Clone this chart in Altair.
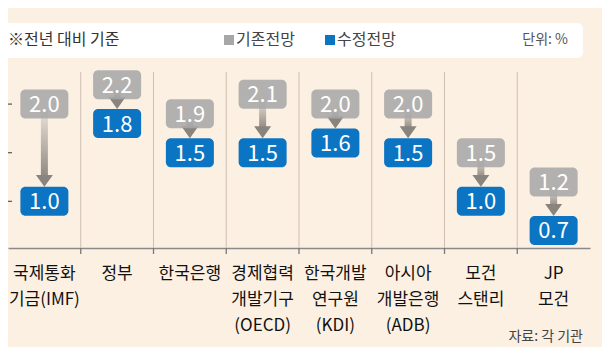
import altair as alt
import pandas as pd

# ---- data ----
categories = ["국제통화\n기금(IMF)", "정부", "한국은행", "경제협력\n개발기구\n(OECD)",
              "한국개발\n연구원\n(KDI)", "아시아\n개발은행\n(ADB)", "모건\n스탠리", "JP\n모건"]
old_forecast = [2.0, 2.2, 1.9, 2.1, 2.0, 2.0, 1.5, 1.2]
new_forecast = [1.0, 1.8, 1.5, 1.5, 1.6, 1.5, 1.0, 0.7]
y_ticks = [1.0, 1.5, 2.0]

# ---- styling constants ----
W, H = 582, 176
YMIN, YMAX = 0.52, 2.33
PPU = H / (YMAX - YMIN)          # pixels per percentage point
BOX_W, BOX_H = 48, 29
HH = (BOX_H / 2) / PPU           # half box height in data units
BG = "#fcf0e2"
GRAY = "#a7a7a7"
BLUE = "#0b74c3"
KFONT = "Noto Sans CJK KR"
NFONT = "Liberation Sans Narrow, Noto Sans CJK KR"

df = pd.DataFrame({"cat": categories, "old": old_forecast, "new": new_forecast})
df["idx"] = range(len(df))

base = alt.Chart(df)
XSCALE = alt.Scale(paddingInner=0, paddingOuter=0)
XAXIS = alt.Axis(title=None, ticks=False, grid=False, domainColor="#8a8a8a",
                 domainWidth=1.6, labelAngle=0, labelFont=KFONT, labelFontSize=17,
                 labelColor="#111", labelPadding=17, labelLineHeight=26,
                 labelExpr="split(datum.label, '\\n')")
X = alt.X("cat:N", sort=categories, scale=XSCALE, axis=XAXIS)
XE = alt.X("cat:N", sort=categories, bandPosition=0, scale=XSCALE, axis=XAXIS)
Yscale = alt.Scale(domain=[YMIN, YMAX], nice=False, zero=False)

def Y(field):
    return alt.Y(field, type="quantitative", scale=Yscale, axis=None)

sep = base.transform_filter("datum.idx > 0").mark_rule(color="#cdbfb2", strokeWidth=1).encode(
    x=XE, y=alt.value(0), y2=alt.value(H))
btick = base.transform_filter("datum.idx > 0").mark_rule(color="#777", strokeWidth=1.3).encode(
    x=XE, y=alt.value(H), y2=alt.value(H + 6))

ytk = alt.Chart(pd.DataFrame({"v": y_ticks})).mark_rule(color="#555", strokeWidth=1.2).encode(
    x=alt.value(0), x2=alt.value(4), y=Y("v"))

grad = {"gradient": "linear", "x1": 0, "y1": 0, "x2": 0, "y2": 1,
        "stops": [{"offset": 0, "color": "#ece4da"}, {"offset": 1, "color": "#8e8881"}]}
shaft = base.transform_calculate(
    s="datum.old - %f" % (HH * 0.3), e="datum.new + %f" % ((BOX_H / 2 + 9) / PPU)
).mark_bar(width=7, color=grad).encode(x=X, y=Y("s"), y2="e:Q")

head = base.mark_point(shape="M-1,-0.7L1,-0.7L0,0.7Z", size=289, filled=True, opacity=1,
                       color="#8a847e", yOffset=-(BOX_H / 2 + 6)).encode(x=X, y=Y("new"))

gbox = base.transform_calculate(t="datum.old + %f" % HH, b="datum.old - %f" % HH).mark_bar(
    width=BOX_W, cornerRadius=5, color=GRAY, opacity=0.88).encode(x=X, y=Y("t"), y2="b:Q")
gtxt = base.mark_text(color="white", font=NFONT, fontSize=22, baseline="middle", dy=1).encode(
    x=X, y=Y("old"), text=alt.Text("old:Q", format=".1f"))
bbox = base.transform_calculate(t="datum.new + %f" % HH, b="datum.new - %f" % HH).mark_bar(
    width=BOX_W, cornerRadius=5, color=BLUE).encode(x=X, y=Y("t"), y2="b:Q")
btxt = base.mark_text(color="white", font=NFONT, fontSize=22, baseline="middle", dy=1).encode(
    x=X, y=Y("new"), text=alt.Text("new:Q", format=".1f"))

one = alt.Chart(pd.DataFrame({"a": [0]}))
header = one.mark_rect(color="white", cornerRadius=6).encode(
    x=alt.value(-8), x2=alt.value(575), y=alt.value(-49), y2=alt.value(-14))
note = one.mark_text(text="※전년 대비 기준", font=KFONT, fontSize=16, color="#333",
                     align="left", baseline="middle").encode(x=alt.value(0), y=alt.value(-32))
unit = one.mark_text(text="단위: %", font=KFONT, fontSize=14, color="#555",
                     align="right", baseline="middle").encode(x=alt.value(560), y=alt.value(-32))
lg_sq1 = one.mark_square(size=100, color=GRAY, opacity=1).encode(x=alt.value(221), y=alt.value(-32))
lg_t1 = one.mark_text(text="기존전망", font=KFONT, fontSize=16, color="#444",
                      align="left", baseline="middle").encode(x=alt.value(228), y=alt.value(-32))
lg_sq2 = one.mark_square(size=100, color=BLUE, opacity=1).encode(x=alt.value(322), y=alt.value(-32))
lg_t2 = one.mark_text(text="수정전망", font=KFONT, fontSize=16, color="#444",
                      align="left", baseline="middle").encode(x=alt.value(329), y=alt.value(-32))
src = one.mark_text(text="자료: 각 기관", font=KFONT, fontSize=14, color="#444",
                    align="right", baseline="middle").encode(x=alt.value(575), y=alt.value(265))

chart = alt.layer(
    sep, btick, ytk, shaft, head, gbox, gtxt, bbox, btxt,
    header, note, unit, lg_sq1, lg_t1, lg_sq2, lg_t2, src
).properties(
    width=W, height=H,
    autosize=alt.AutoSizeParams(type="none"),
    padding={"left": 0, "top": 64, "right": 12, "bottom": 99},
).configure(background=BG).configure_view(stroke=None)

chart.save("out.html", embed_options={"renderer": "svg", "actions": False})
